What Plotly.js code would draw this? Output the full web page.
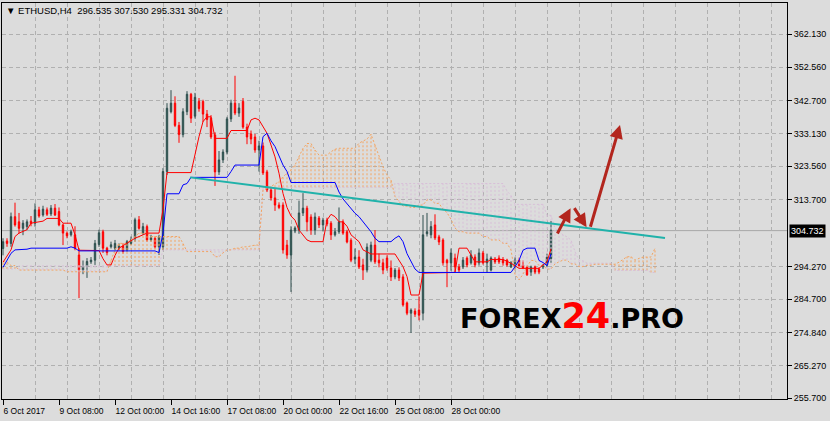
<!DOCTYPE html>
<html>
<head>
<meta charset="utf-8">
<script src="https://cdn.plot.ly/plotly-3.0.1.min.js"></script>
<style>html,body{margin:0;padding:0;background:#dcdcdc;}#chart{width:830px;height:421px;}</style>
</head>
<body>
<div id="chart"></div>
<script>
// ---------- DATA ----------
const SYMBOL = "ETHUSD,H4";
const OPEN = [299.5,301.7,301.0,308.8,307.3,305.4,305.9,307.5,306.9,310.8,
309.3,310.8,309.6,311.3,310.3,306.4,304.0,303.5,303.5,297.6,
293.2,294.2,295.6,296.1,300.7,304.4,299.6,300.0,299.6,299.6,
300.2,299.1,301.0,302.5,307.9,304.0,305.9,302.0,302.5,300.0,
300.0,322.0,339.5,342.0,335.5,332.8,339.5,344.6,338.2,342.5,
342.5,338.8,337.6,332.7,321.9,325.4,327.7,337.4,342.0,339.1,
342.5,335.0,333.0,332.1,328.3,329.5,321.9,316.6,314.3,312.2,
312.2,300.5,297.6,304.6,304.9,309.9,311.3,308.7,304.9,308.4,
306.4,307.8,306.9,303.5,304.4,307.3,304.4,301.9,296.4,297.0,
294.7,293.2,296.1,300.5,296.1,295.3,296.7,293.8,291.2,293.2,
291.2,283.6,280.6,281.2,281.5,280.6,303.8,303.5,306.4,302.9,
302.0,296.1,295.3,296.7,294.1,294.1,296.7,295.3,297.0,295.3,
298.2,295.3,293.2,296.4,296.7,296.1,296.1,294.1,294.7,296.1,
294.7,294.1,292.6,294.1,293.5,294.1,294.7,296.535];
const HIGH = [302.5,302.5,310.0,312.9,309.9,307.8,308.0,309.0,312.7,311.7,
312.0,311.5,312.2,312.5,311.5,306.8,304.5,305.0,306.0,299.6,
296.0,296.7,297.0,302.0,305.0,305.0,300.0,301.5,302.0,301.0,
301.0,302.0,303.0,308.5,309.0,307.0,306.5,303.5,303.0,303.5,
323.0,342.0,345.8,344.0,336.5,340.5,345.5,345.0,345.0,343.5,
343.0,340.0,338.5,333.5,328.0,328.5,338.0,343.0,350.0,342.0,
343.5,336.0,334.0,333.0,331.0,330.5,322.5,317.5,317.0,313.0,
313.0,302.0,306.0,306.0,313.5,315.7,312.0,309.5,310.0,309.0,
308.5,308.5,307.5,305.5,311.5,308.0,305.0,302.5,299.5,299.0,
296.5,301.0,301.5,304.9,298.0,296.5,297.5,296.0,293.8,294.0,
292.0,284.0,282.0,282.0,285.5,309.3,309.9,307.5,309.5,303.5,
302.5,296.5,299.5,298.0,295.0,297.0,297.2,299.0,297.8,299.5,
298.8,298.0,297.2,297.0,297.5,297.0,296.5,295.8,297.0,296.8,
296.0,294.5,294.5,294.5,294.0,295.0,298.0,307.530];
const LOW = [297.5,300.0,300.0,305.9,303.9,303.4,305.0,306.0,305.9,308.5,
308.8,309.0,309.0,309.0,306.0,300.5,302.5,303.0,299.0,285.0,
292.0,290.9,295.0,294.7,300.0,298.2,297.5,299.5,299.0,299.0,
298.0,298.6,300.5,301.5,305.0,303.5,301.5,301.5,299.5,297.6,
299.0,321.0,339.0,335.0,330.4,332.0,338.5,336.2,337.5,339.5,
336.5,335.0,331.5,317.8,321.0,324.5,327.0,336.5,338.5,338.0,
334.5,330.0,330.0,327.5,322.0,321.0,316.0,313.5,310.5,311.0,
298.0,296.5,286.8,304.0,303.8,309.0,304.5,303.5,303.5,305.5,
304.5,306.0,302.0,303.0,303.8,303.5,301.0,295.5,295.0,293.5,
290.3,292.5,295.5,295.0,294.0,292.0,293.0,290.0,290.5,290.0,
282.5,280.0,274.8,279.5,278.5,278.5,303.0,302.5,302.0,300.5,
294.5,288.2,293.0,292.5,292.5,293.5,294.0,294.8,294.0,294.5,
294.8,292.5,292.8,295.0,295.0,294.5,294.2,293.8,293.5,294.0,
293.5,291.5,291.5,292.0,292.0,293.5,294.0,295.331];
const CLOSE = [301.5,301.0,308.8,306.4,305.4,306.9,307.3,306.8,310.8,309.0,
311.0,309.5,311.3,309.3,306.4,304.0,303.2,304.4,299.6,293.2,
294.4,295.7,296.1,301.0,304.1,299.6,298.3,300.6,301.0,300.2,
298.6,301.5,302.0,307.9,305.4,305.9,302.0,302.7,300.0,302.9,
322.0,340.5,342.0,335.5,332.8,339.5,344.6,337.6,343.7,340.4,
338.8,337.2,332.1,321.9,325.4,327.7,337.4,342.0,339.1,340.6,
335.0,332.1,331.5,328.3,329.5,321.6,316.6,314.3,312.2,311.5,
299.1,297.6,304.9,305.5,309.9,311.3,307.3,304.9,308.7,306.4,
307.8,306.7,303.5,304.4,307.3,304.0,301.4,296.1,297.0,294.1,
293.2,299.9,300.5,295.6,295.3,293.2,293.8,291.2,293.2,290.9,
283.0,280.6,281.5,280.3,280.0,303.5,304.4,305.9,302.6,301.4,
295.3,295.3,298.2,294.1,293.2,296.1,294.7,297.6,294.7,298.2,
295.3,296.4,296.7,295.6,295.6,295.3,294.7,295.3,296.1,294.4,
293.8,291.8,294.1,292.6,292.6,294.7,297.0,304.732];

// Ichimoku Tenkan-sen (red) read at its break points (bar index, price)
const TENKAN_X = [0,1,2,3,4,6,7,10,11,14,15,17,18,19,24,25,26,27,28,29,31,33,36,39,40,41,47,48,49,50,51,52,53,56,57,61,62,63,64,66,68,69,70,71,72,73,74,76,77,80,81,82,83,84,85,86,87,88,89,90,92,98,100,101,102,104,105,113,114,116,117,118,121,122,125,127,129,134,135,136,137];
const TENKAN_Y = [295.5,297.5,299.1,303.0,304.0,305.0,306.9,307.5,308.3,308.3,306.9,306.9,303.5,299.0,298.9,296.5,294.7,294.7,297.5,299.6,301.0,302.5,304.0,304.0,311.0,321.7,321.7,327.3,332.2,336.6,338.0,338.0,331.7,331.7,334.0,334.0,337.1,337.6,337.1,333.2,326.3,321.5,315.6,311.5,309.0,307.8,304.9,302.0,301.5,301.5,307.8,309.5,308.8,307.3,307.3,306.0,303.5,302.5,301.5,299.1,297.9,297.9,294.2,291.3,285.9,285.9,292.3,292.5,299.6,299.6,297.5,295.6,295.6,296.3,296.3,295.2,293.7,293.7,294.7,295.6,299.4];
// Kijun-sen (blue)
const KIJUN_X = [0,1,2,3,6,7,16,17,18,19,38,39,40,41,44,45,46,47,56,57,58,64,65,66,67,68,69,70,71,72,83,84,85,86,87,88,89,90,91,92,93,94,97,98,99,100,101,102,103,104,127,128,129,130,131,133,134,135,136,137];
const KIJUN_Y = [294.0,296.1,298.1,299.1,299.3,299.6,299.6,300.0,299.6,298.8,298.8,298.3,304.0,315.5,315.5,318.1,318.5,320.3,320.3,322.0,323.9,323.9,332.2,333.2,331.0,329.3,326.5,323.9,322.0,318.8,318.8,316.0,314.0,312.5,311.3,309.8,308.8,307.3,305.6,304.4,302.5,301.5,301.5,302.5,303.2,301.5,298.0,295.5,293.5,292.5,292.5,294.2,296.0,299.0,299.6,299.6,296.0,295.4,294.5,297.9];
// Senkou Span A (sandy brown) and B (thistle), one value per bar incl. 26 bars ahead
const SPAN_A = [295.6,295.6,294.5,294.5,293.2,293.2,293.2,293.2,293.2,293.2,
293.2,293.2,293.2,293.2,293.2,293.2,292.7,292.7,292.7,292.7,
292.7,292.7,292.7,292.7,292.7,292.7,292.7,296.0,299.1,301.0,
301.0,301.0,302.0,303.0,304.0,304.0,304.0,303.0,303.0,303.0,
303.0,303.0,303.0,303.0,303.0,301.0,298.6,298.6,298.6,298.6,
298.6,298.6,298.6,297.1,297.1,298.2,299.1,299.1,299.6,299.6,
300.0,300.0,300.3,300.5,300.5,316.6,317.0,317.6,318.3,319.0,
320.5,321.5,322.5,323.9,326.3,328.8,330.2,330.2,328.3,326.8,
326.8,326.8,327.8,328.5,328.8,328.8,328.8,328.8,328.8,330.3,
330.8,331.5,332.9,329.8,326.5,323.4,321.0,319.5,314.7,313.2,
311.9,311.9,311.5,311.5,312.2,312.2,313.7,313.7,312.7,312.7,
311.0,310.0,308.0,305.5,304.4,304.4,304.0,304.0,304.0,304.0,
303.0,303.0,302.0,302.0,302.0,301.0,301.0,299.1,292.0,290.3,
292.0,294.2,296.0,296.0,294.5,294.5,293.5,293.5,295.0,295.6,
296.1,296.1,295.0,295.0,294.2,294.2,294.6,294.6,294.9,294.9,
294.9,294.9,294.9,294.9,295.5,296.3,297.1,297.1,296.1,296.6,
297.0,297.0,297.0,299.6];
const SPAN_B = [293.5,293.5,293.5,293.5,294.4,294.4,294.4,294.4,294.4,294.4,
294.4,294.4,294.4,294.4,294.4,294.4,294.4,294.4,294.4,294.4,
294.4,294.4,294.4,294.4,294.4,294.4,294.4,294.4,294.4,294.4,
294.4,294.4,294.4,294.4,294.4,294.4,294.4,294.4,294.4,294.4,
299.1,299.1,299.1,299.1,299.1,299.1,299.1,299.1,299.1,299.1,
299.1,299.1,299.1,299.1,299.1,299.1,299.1,299.1,299.1,299.1,
299.1,299.1,299.1,299.1,299.1,317.4,317.4,317.4,317.4,317.4,
317.4,317.4,317.4,317.4,317.4,317.4,317.4,317.4,317.4,317.4,
317.4,317.4,317.4,317.4,317.4,317.4,317.4,317.4,317.4,317.4,
317.4,317.4,317.4,317.4,317.4,317.4,317.4,317.4,318.5,318.5,
318.5,318.5,318.5,318.5,318.5,318.5,318.5,318.5,318.5,318.5,
318.5,318.5,318.5,318.5,318.5,318.5,318.5,318.5,318.5,318.5,
318.5,318.5,318.5,318.5,318.5,318.5,316.3,315.0,312.4,312.4,
312.4,312.4,312.4,312.4,312.4,312.4,309.2,309.2,305.4,304.4,
303.5,302.9,302.0,298.6,296.1,295.9,295.2,295.2,295.2,295.2,
295.2,295.2,295.2,293.1,293.1,293.1,293.1,293.1,293.1,293.1,
293.1,293.1,292.5,292.5];

// Trend line and hand-drawn arrows (bar index, price)
const TREND_X = [46.75, 165.5];
const TREND_Y = [320.3, 302.6];
const ARROW_TAIL_X = [138.4, 142.6, 146.75];
const ARROW_TAIL_Y = [303.45, 311.73, 305.41];
const ARROW_HEAD_X = [141.9, 145.9, 154.25];
const ARROW_HEAD_Y = [311.26, 305.70, 335.61];

// Axis ticks
const X_TICK_IDX = [0,14,28,42,56,70,84,98,112];
const X_TICK_TEXT = ["6 Oct 2017","9 Oct 08:00","12 Oct 00:00","14 Oct 16:00","17 Oct 08:00","20 Oct 00:00","22 Oct 16:00","25 Oct 08:00","28 Oct 00:00"];
const Y_TICKS = [255.700,265.270,274.840,284.700,294.270,313.700,323.560,333.130,342.700,352.560,362.130];

// ---------- BUILD ----------
const BG = '#dcdcdc';
const GRID = '#b0b0b0';
const FONT = 'Liberation Sans, Arial, sans-serif';
const idx = OPEN.map((_, k) => k);
const spanIdx = SPAN_A.map((_, k) => k);
const last = OPEN.length - 1;

const hoX = [], hoY = [], htX = [], htY = [];
SPAN_A.forEach((a, k) => {
  const b = SPAN_B[k];
  if (a >= b) { hoX.push(k, k, null); hoY.push(b, a, null); }
  else { htX.push(k, k, null); htY.push(a, b, null); }
});

const traces = [
  {type:'scatter', mode:'lines', x:htX, y:htY, line:{color:'#d8bfd8', width:1, dash:'2px,2px'}, hoverinfo:'skip', connectgaps:false},
  {type:'scatter', mode:'lines', x:hoX, y:hoY, line:{color:'#f4a460', width:1, dash:'2px,2px'}, hoverinfo:'skip', connectgaps:false},
  {type:'scatter', mode:'lines', x:spanIdx, y:SPAN_B, line:{color:'#d8bfd8', width:1, dash:'2px,2px'}, hoverinfo:'skip'},
  {type:'scatter', mode:'lines', x:spanIdx, y:SPAN_A, line:{color:'#f4a460', width:1, dash:'2px,2px'}, hoverinfo:'skip'},
  {type:'candlestick', x:idx, open:OPEN, high:HIGH, low:LOW, close:CLOSE,
   increasing:{line:{color:'#2f4f4f', width:1}, fillcolor:'#2f6654'},
   decreasing:{line:{color:'#ff0000', width:1}, fillcolor:'#ff0000'},
   whiskerwidth:0, hoverinfo:'skip'},
  {type:'scatter', mode:'lines', x:TENKAN_X, y:TENKAN_Y, line:{color:'#ff0000', width:1}, hoverinfo:'skip'},
  {type:'scatter', mode:'lines', x:KIJUN_X, y:KIJUN_Y, line:{color:'#0000ff', width:1}, hoverinfo:'skip'},
  {type:'scatter', mode:'lines', x:TREND_X, y:TREND_Y, line:{color:'#20b2aa', width:2}, hoverinfo:'skip'},
  {type:'scatter', mode:'markers', x:X_TICK_IDX, y:X_TICK_IDX.map(() => null), xaxis:'x2', hoverinfo:'skip'}
];

const fmt = v => v.toFixed(3);
const annotations = [
  {xref:'paper', yref:'paper', x:0, y:1, xanchor:'left', yanchor:'middle', xshift:2, yshift:-7, showarrow:false,
   text:'▼ ' + SYMBOL + '  ' + [OPEN[last], HIGH[last], LOW[last], CLOSE[last]].map(fmt).join(' '),
   font:{family:FONT, size:9.5, color:'#000'}},
  {xref:'paper', yref:'y', x:1, y:CLOSE[last], xanchor:'left', yanchor:'middle', xshift:2, showarrow:false,
   text:fmt(CLOSE[last]), bgcolor:'#000', borderpad:1, font:{family:FONT, size:9, color:'#fff'}},
  {xref:'paper', yref:'paper', x:0.5809, y:0.2096, xanchor:'left', yanchor:'middle', showarrow:false,
   text:'FOREX<span style="color:#ff0000;font-size:35px">24</span>.PRO',
   font:{family:'DejaVu Sans', size:27, color:'#000', weight:'bold'}}
];
ARROW_HEAD_X.forEach((hx, k) => {
  annotations.push({xref:'x', yref:'y', axref:'x', ayref:'y', x:hx, y:ARROW_HEAD_Y[k],
    ax:ARROW_TAIL_X[k], ay:ARROW_TAIL_Y[k], showarrow:true, arrowhead:2, arrowsize:0.9,
    arrowwidth:3, arrowcolor:'#b3261e', text:''});
});

const layout = {
  width:830, height:421,
  margin:{l:2, r:43, t:3, b:22, pad:0},
  paper_bgcolor:BG, plot_bgcolor:BG,
  showlegend:false, hovermode:false, boxgap:0.5,
  xaxis:{range:[-0.25, 196], autorange:false, showgrid:true, gridcolor:GRID, griddash:'4px,3px', gridwidth:1,
         tick0:0, dtick:8, showticklabels:false, ticks:'', zeroline:false,
         showline:true, linecolor:'#000', linewidth:1, mirror:true, rangeslider:{visible:false}},
  xaxis2:{overlaying:'x', anchor:'y', side:'bottom', range:[-0.25, 196], autorange:false,
          tickmode:'array', tickvals:X_TICK_IDX, ticktext:X_TICK_TEXT, ticks:'outside', ticklen:5,
          tickcolor:'#000', showgrid:false, zeroline:false, showline:false, tickangle:0,
          ticklabelstandoff:4,
          ticklabelposition:'outside right', tickfont:{family:FONT, size:8.5, color:'#000'}},
  yaxis:{range:[255.5, 371.28], autorange:false, side:'right', tickmode:'array', tickvals:Y_TICKS,
         tickformat:'.3f', ticks:'outside', ticklen:4, tickcolor:'#000',
         showgrid:true, gridcolor:GRID, griddash:'4px,3px', zeroline:false,
         showline:true, linecolor:'#000', linewidth:1, mirror:true,
         tickfont:{family:FONT, size:9, color:'#000'}},
  shapes:[{type:'line', xref:'paper', x0:0, x1:1, yref:'y', y0:CLOSE[last], y1:CLOSE[last],
           line:{color:'#a8a8a8', width:1}, layer:'below'}],
  annotations:annotations
};

Plotly.newPlot('chart', traces, layout, {staticPlot:true, displayModeBar:false});
</script>
</body>
</html>
